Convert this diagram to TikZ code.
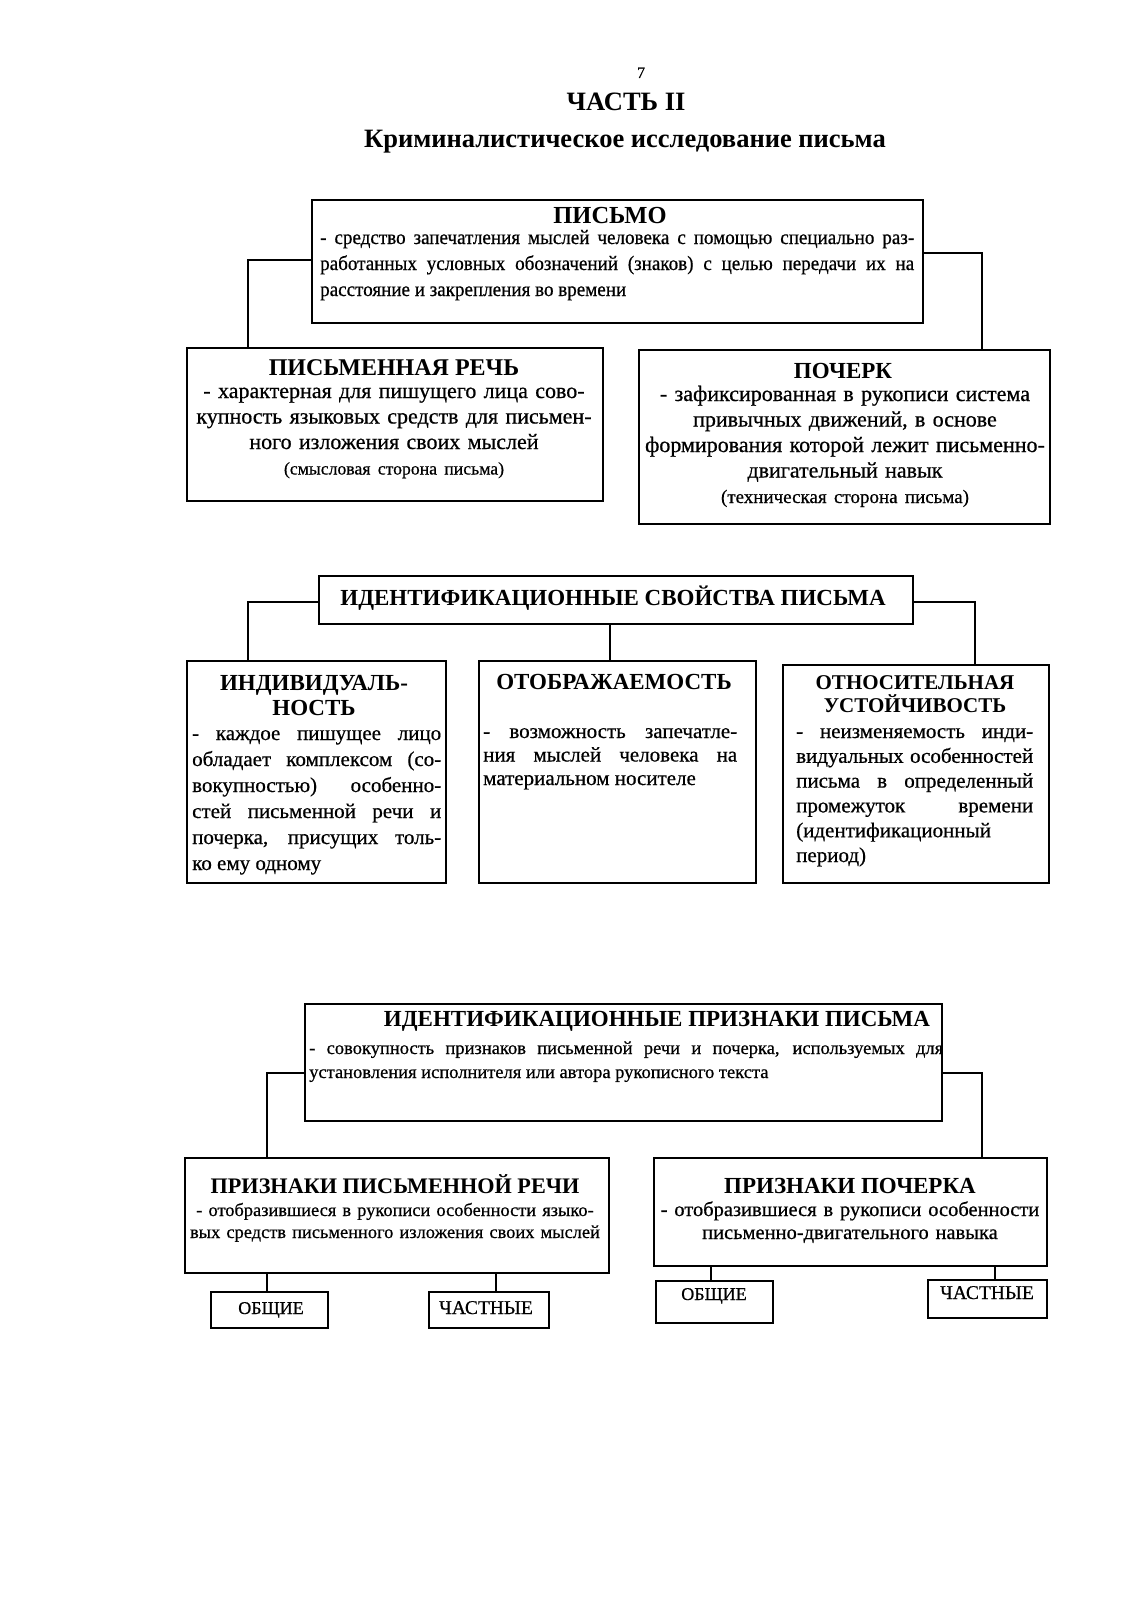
\documentclass[tikz,border=0pt]{standalone}
\usepackage{fontspec}
\setmainfont{Liberation Serif}
\newfontfamily\bodyfont{Liberation Serif}[FakeBold=0.6]
\newfontfamily\condfont{Liberation Serif}[FakeStretch=0.93,FakeBold=0.6]
\begin{document}
\begin{tikzpicture}[x=1pt,y=-1pt,
  box/.style={draw, line width=1.6pt, inner sep=0pt, anchor=north west},
  conn/.style={line width=1.4pt},
  hd/.style={font=\bfseries\fontsize{23}{25}\selectfont, inner sep=0pt, anchor=base, align=center},
  bodyj/.style={font=\bodyfont\fontsize{21}{26}\selectfont, inner sep=0pt, anchor=base west, align=justify},
  bodyc/.style={font=\bodyfont\fontsize{22}{25.5}\selectfont, inner sep=0pt, anchor=base, align=center, text width=460},
  small/.style={font=\bodyfont\fontsize{18}{20}\selectfont, inner sep=0pt, anchor=base}
]
\useasboundingbox (0,0) rectangle (1130,1600);
\fill[white] (0,0) rectangle (1130,1600);

% title
\node[small, font=\bodyfont\fontsize{16}{18}\selectfont] (pnum) at (641,78) {7};
\node[hd, font=\bfseries\fontsize{26.5}{28}\selectfont] (part) at (626,111) {ЧАСТЬ II};
\node[hd, font=\bfseries\fontsize{26.5}{28}\selectfont] (title) at (625,147) {Криминалистическое исследование письма};

% section 1
\node[box, minimum width=611, minimum height=123] (pismo) at (311,199) {};
\node[hd, font=\bfseries\fontsize{24.5}{27}\selectfont] (pismoH) at (610,223) {ПИСЬМО};
\node[bodyj, text width=594, font=\condfont\fontsize{20.5}{26}\selectfont] (pismoB) at (320,244) {- средство запечатления мыслей человека с помощью специально раз-\linebreak работанных условных обозначений (знаков) с целью передачи их на\linebreak расстояние и закрепления во времени};

\node[box, minimum width=416, minimum height=153] (rech) at (186,347) {};
\node[hd, font=\bfseries\fontsize{24}{26}\selectfont] (rechH) at (394,375) {ПИСЬМЕННАЯ РЕЧЬ};
\node[bodyc] (rechB) at (394,398) {- характерная для пишущего лица сово-\\купность языковых средств для письмен-\\ного изложения своих мыслей\\{\fontsize{17.7}{25.5}\selectfont(смысловая сторона письма)}};

\node[box, minimum width=411, minimum height=174] (poch) at (638,349) {};
\node[hd] (pochH) at (843,378) {ПОЧЕРК};
\node[bodyc] (pochB) at (845,401) {- зафиксированная в рукописи система\\привычных движений, в основе\\формирования которой лежит письменно-\\двигательный навык\\{\fontsize{19}{24}\selectfont(техническая сторона письма)}};

\draw[conn] (pismo.west |- 0,260) -| (rech.north -| 248,0);
\draw[conn] (pismo.east |- 0,253) -| (poch.north -| 982,0);

% section 2
\node[box, minimum width=594, minimum height=48] (svoj) at (318,575) {};
\node[hd] (svojH) at (613,605) {ИДЕНТИФИКАЦИОННЫЕ СВОЙСТВА ПИСЬМА};

\node[box, minimum width=259, minimum height=222] (indiv) at (186,660) {};
\node[hd, text width=250] (indivH) at (314,690) {ИНДИВИДУАЛЬ-\\НОСТЬ};
\node[bodyj, text width=249] (indivB) at (192,740) {- каждое пишущее лицо\linebreak обладает комплексом (со-\linebreak вокупностью) особенно-\linebreak стей письменной речи и\linebreak почерка, присущих толь-\linebreak ко ему одному};

\node[box, minimum width=277, minimum height=222] (otobr) at (478,660) {};
\node[hd] (otobrH) at (614,689) {ОТОБРАЖАЕМОСТЬ};
\node[bodyj, text width=254, font=\bodyfont\fontsize{21}{23.5}\selectfont] (otobrB) at (483,738) {- возможность запечатле-\linebreak ния мыслей человека на\linebreak материальном носителе};

\node[box, minimum width=266, minimum height=218] (otnos) at (782,664) {};
\node[hd, text width=250, font=\bfseries\fontsize{21}{23.5}\selectfont] (otnosH) at (915,689) {ОТНОСИТЕЛЬНАЯ\\УСТОЙЧИВОСТЬ};
\node[bodyj, text width=237, font=\bodyfont\fontsize{21}{24.8}\selectfont] (otnosB) at (796,738) {- неизменяемость инди-\linebreak видуальных особенностей\linebreak письма в определенный\linebreak промежуток времени\linebreak (идентификационный\newline период)};

\draw[conn] (svoj.west |- 0,602) -| (indiv.north -| 248,0);
\draw[conn] (svoj.south -| 610,0) -- (otobr.north -| 610,0);
\draw[conn] (svoj.east |- 0,602) -| (otnos.north -| 975,0);

% section 3
\node[box, minimum width=637, minimum height=117] (prizn) at (304,1003) {};
\node[hd] (priznH) at (657,1026) {ИДЕНТИФИКАЦИОННЫЕ ПРИЗНАКИ ПИСЬМА};
\node[bodyj, text width=634, font=\bodyfont\fontsize{18.5}{24}\selectfont] (priznB) at (309,1054) {- совокупность признаков письменной речи и почерка, используемых для\linebreak установления исполнителя или автора рукописного текста};

\node[box, minimum width=424, minimum height=115] (ppr) at (184,1157) {};
\node[hd, font=\bfseries\fontsize{22.2}{25}\selectfont] (pprH) at (395,1193) {ПРИЗНАКИ ПИСЬМЕННОЙ РЕЧИ};
\node[bodyc, font=\bodyfont\fontsize{18.4}{22}\selectfont] (pprB) at (395,1216) {- отобразившиеся в рукописи особенности языко-\\вых средств письменного изложения своих мыслей};

\node[box, minimum width=393, minimum height=108] (pp) at (653,1157) {};
\node[hd] (ppH) at (850,1193) {ПРИЗНАКИ ПОЧЕРКА};
\node[bodyc, font=\bodyfont\fontsize{20.5}{23}\selectfont] (ppB) at (850,1216) {- отобразившиеся в рукописи особенности\\письменно-двигательного навыка};

\draw[conn] (prizn.west |- 0,1073) -| (ppr.north -| 267,0);
\draw[conn] (prizn.east |- 0,1073) -| (pp.north -| 982,0);

\node[box, minimum width=117, minimum height=36] (ob1) at (210,1291) {};
\node[small] (ob1T) at (271,1314) {ОБЩИЕ};
\node[box, minimum width=120, minimum height=36] (ch1) at (428,1291) {};
\node[small, font=\bodyfont\fontsize{19.5}{20}\selectfont] (ch1T) at (486,1314) {ЧАСТНЫЕ};
\node[box, minimum width=117, minimum height=42] (ob2) at (655,1280) {};
\node[small] (ob2T) at (714,1300) {ОБЩИЕ};
\node[box, minimum width=119, minimum height=38] (ch2) at (927,1279) {};
\node[small, font=\bodyfont\fontsize{19.5}{20}\selectfont] (ch2T) at (987,1299) {ЧАСТНЫЕ};

\draw[conn] (ppr.south -| 267,0) -- (ob1.north -| 267,0);
\draw[conn] (ppr.south -| 496,0) -- (ch1.north -| 496,0);
\draw[conn] (pp.south -| 711,0) -- (ob2.north -| 711,0);
\draw[conn] (pp.south -| 995,0) -- (ch2.north -| 995,0);
\end{tikzpicture}
\end{document}
